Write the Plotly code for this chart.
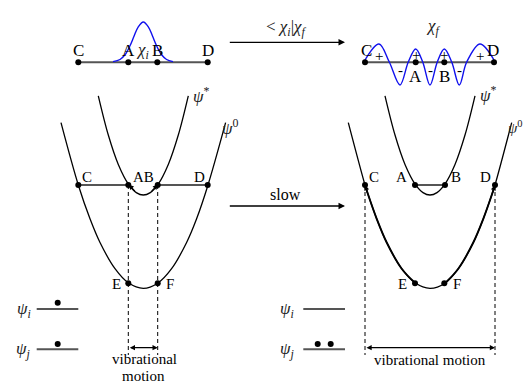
import plotly.graph_objects as go

W, H = 526, 385
SERIF = "Liberation Serif"

# ---------------- top row: vibrational wavefunctions ----------------
top_y = 62.3
top_left_x = [78.3, 128.3, 157.3, 207.7]          # C A B D (left)
top_right_x = [365.0, 415.7, 444.3, 494.0]        # C A B D (right)
chi_i_x = [113, 120, 125, 130, 134, 138, 143.3, 148.6, 152.6, 156.6, 161.6, 166.6, 173]
chi_i_y = [61.6, 59.5, 54.8, 45.8, 36.3, 27.3, 22, 27.3, 36.3, 45.8, 54.8, 59.5, 61.6]
chi_f_x = [365, 379, 389.3, 400, 408.3, 415.7, 422.7, 430, 437.3, 444.3, 451.7, 459.3, 466.7, 480, 494]
chi_f_y = [60, 44, 62, 85, 62, 49, 62, 85, 62, 49, 62, 85, 62, 44, 60]
sign_x = [379.3, 400, 415.7, 430, 444.3, 459.3, 480]
sign_y = [56, 70, 55, 70, 55, 70, 56]
sign_txt = ["+", "-", "+", "-", "+", "-", "+"]

# ---------------- potential curves ----------------
psi0_left_x = [61, 78.3, 90, 100, 115, 128.3, 143.3, 157.7, 171.6, 186.6, 196.6, 208, 225.6]
psi0_right_x = [348.3, 365, 368, 376.7, 386.7, 401.7, 415, 430, 445, 458.3, 473.3, 483.3, 492, 495, 511.7]
psi0_left_y = [122.7, 185, 218.8, 242.5, 268.7, 282.8, 288.3, 283.2, 268.7, 242.5, 218.8, 185, 122.7]
psi0_right_y = [122.7, 185, 194.3, 218.8, 242.5, 268.7, 282.8, 288.3, 283.2, 268.7, 242.5, 218.8, 194.3, 185, 122.7]
psis_left_x = [98.3, 108.3, 118.3, 128.6, 136.3, 143.3, 150.3, 158, 168.3, 178.3, 188.3]
psis_right_x = [385, 395, 405, 415.3, 423, 430, 437, 444.7, 455, 465, 475]
psis_y = [95.8, 135, 164.4, 184.4, 192.6, 195, 192.6, 184.4, 164.4, 135, 95.8]

level_y = 185.0
ef_y = 283.3
left_CABD_x = [78.3, 128.3, 157.7, 207.7]
right_CABD_x = [365.0, 415.0, 445.0, 495.0]
left_EF_x = [128.3, 157.7]
right_EF_x = [415.0, 444.3]

# ---------------- orbital levels ----------------
psi_i_y, psi_j_y = 309.0, 349.3
left_level_x = [36.7, 78.3]
right_level_x = [303.3, 345.0]
left_elec_x = [57.7, 57.7]
left_elec_y = [302.7, 344.0]
right_elec_x = [317.7, 330.7]
right_elec_y = [344.0, 344.0]

dash_bottom = 355.0
vib_arrow_y = 347.7

fig = go.Figure()


def line(x, y, color="black", width=1.3, dash="solid", shape="linear"):
    fig.add_trace(go.Scatter(x=x, y=y, mode="lines", hoverinfo="skip",
                             line=dict(color=color, width=width, dash=dash, shape=shape, smoothing=1)))


def dots(x, y, size=6):
    fig.add_trace(go.Scatter(x=x, y=y, mode="markers", hoverinfo="skip",
                             marker=dict(color="black", size=size)))


DASH = "4px,3px"

# top row
line([top_left_x[0], top_left_x[-1]], [top_y, top_y], color="#555", width=2)
line([top_right_x[0], top_right_x[-1]], [top_y, top_y], color="#555", width=2)
line(chi_i_x, chi_i_y, color="#1010ee", width=1.4, shape="spline")
line(chi_f_x, chi_f_y, color="#1010ee", width=1.4, shape="spline")
dots(top_left_x, [top_y] * 4)
dots(top_right_x, [top_y] * 4)

# left potentials
line(psi0_left_x, psi0_left_y, shape="spline")
line(psis_left_x, psis_y, shape="spline")
line([left_CABD_x[0], left_CABD_x[1]], [level_y, level_y], color="#555", width=2)
line([left_CABD_x[2], left_CABD_x[3]], [level_y, level_y], color="#555", width=2)
for xv in left_EF_x:
    line([xv, xv], [level_y, dash_bottom], width=1, dash=DASH)
dots(left_CABD_x, [level_y] * 4)
dots(left_EF_x, [ef_y] * 2)

# right potentials
line(psi0_right_x, psi0_right_y, shape="spline")
line(psi0_right_x[1:7], psi0_right_y[1:7], width=1.9, shape="spline")
line(psi0_right_x[8:14], psi0_right_y[8:14], width=1.9, shape="spline")
line(psis_right_x, psis_y, shape="spline")
line([right_CABD_x[1], right_CABD_x[2]], [level_y, level_y], color="#555", width=2)
for xv in [right_CABD_x[0], right_CABD_x[3]]:
    line([xv, xv], [level_y, dash_bottom], width=1, dash=DASH)
dots(right_CABD_x, [level_y] * 4)
dots(right_EF_x, [ef_y] * 2)

# orbital levels
for lx in (left_level_x, right_level_x):
    line(lx, [psi_i_y, psi_i_y], color="#555", width=2)
    line(lx, [psi_j_y, psi_j_y], color="#555", width=2)
dots(left_elec_x, left_elec_y, size=6)
dots(right_elec_x, right_elec_y, size=6)

ann = []


def arrow(x0, y0, x1, y1, both=False, size=1.0, width=1.3):
    ann.append(dict(x=x1, y=y1, ax=x0, ay=y0, xref="x", yref="y", axref="x", ayref="y",
                    text="", showarrow=True, arrowhead=2, arrowsize=size, arrowwidth=width,
                    arrowcolor="black", standoff=0, startstandoff=0,
                    arrowside="end+start" if both else "end", startarrowhead=2, startarrowsize=size))


def label(x, y, text, size=15, color="black", xanchor="center"):
    ann.append(dict(x=x, y=y, xref="x", yref="y", text=text, showarrow=False,
                    xanchor=xanchor, yanchor="middle",
                    font=dict(family=SERIF, size=size, color=color)))


# arrows
arrow(228.3, 42.3, 345, 42.3)
arrow(228.3, 206, 345, 206)
arrow(left_EF_x[0], vib_arrow_y, left_EF_x[1], vib_arrow_y, both=True, size=0.8)
arrow(right_CABD_x[0], vib_arrow_y, right_CABD_x[3], vib_arrow_y, both=True, size=0.8)
arrow(psis_left_x[4], psis_y[4], psis_left_x[3], psis_y[3], size=0.8)
arrow(psis_left_x[6], psis_y[6], psis_left_x[7], psis_y[7], size=0.8)
arrow(psi0_right_x[2], psi0_right_y[2], psi0_right_x[1], psi0_right_y[1], size=0.8)
arrow(psi0_right_x[12], psi0_right_y[12], psi0_right_x[13], psi0_right_y[13], size=0.8)

MATH = "#222"
TOP = 17
label(78.3, 50.5, "C", TOP)
label(128.3, 50.5, "A", TOP)
label(142.6, 50.5, "<i>χ<sub>i</sub></i>", TOP, color=MATH)
label(157.3, 50.5, "B", TOP)
label(207.7, 50.5, "D", TOP)
label(286.7, 28, "&lt; <i>χ<sub>i</sub></i>|<i>χ<sub>f</sub></i>", 17, color=MATH)
label(433, 27, "<i>χ<sub>f</sub></i>", 17, color=MATH)
label(366.5, 50.5, "C", TOP)
label(492.5, 50.5, "D", TOP)
label(415.7, 76, "A", TOP)
label(444.3, 76, "B", TOP)
for sx, sy, st in zip(sign_x, sign_y, sign_txt):
    label(sx, sy, st, 15)

label(87, 177, "C", 15)
label(143.3, 177, "AB", 15)
label(199.3, 177, "D", 15)
label(116, 283.5, "E", 15)
label(169.5, 283.5, "F", 15)
label(191, 95, "<i>ψ</i><sup>*</sup>", 17, color=MATH, xanchor="left")
label(220, 127, "<i>ψ</i><sup>0</sup>", 17, color=MATH, xanchor="left")
label(23.5, 310, "<i>ψ<sub>i</sub></i>", 17, color=MATH)
label(23.5, 350, "<i>ψ<sub>j</sub></i>", 17, color=MATH)
label(144, 359, "vibrational", 15)
label(143, 375.5, "motion", 15)
label(285, 194, "slow", 16)

label(373.5, 177, "C", 15)
label(401.7, 177, "A", 15)
label(456, 177, "B", 15)
label(485, 177, "D", 15)
label(402.7, 283.5, "E", 15)
label(456.7, 283.5, "F", 15)
label(478, 94, "<i>ψ</i><sup>*</sup>", 17, color=MATH, xanchor="left")
label(525, 127, "<i>ψ</i><sup>0</sup>", 15, color=MATH, xanchor="right")
label(287, 310, "<i>ψ<sub>i</sub></i>", 17, color=MATH)
label(287, 350, "<i>ψ<sub>j</sub></i>", 17, color=MATH)
label(430, 360, "vibrational motion", 15)

fig.update_layout(
    width=W, height=H, margin=dict(l=0, r=0, t=0, b=0),
    paper_bgcolor="white", plot_bgcolor="white", showlegend=False,
    xaxis=dict(range=[0, W], visible=False, fixedrange=True),
    yaxis=dict(range=[H, 0], visible=False, fixedrange=True),
    annotations=ann,
)

fig.write_html("out.html", config={"displayModeBar": False},
               post_script="document.body.style.margin='0';document.body.style.overflow='hidden';")
